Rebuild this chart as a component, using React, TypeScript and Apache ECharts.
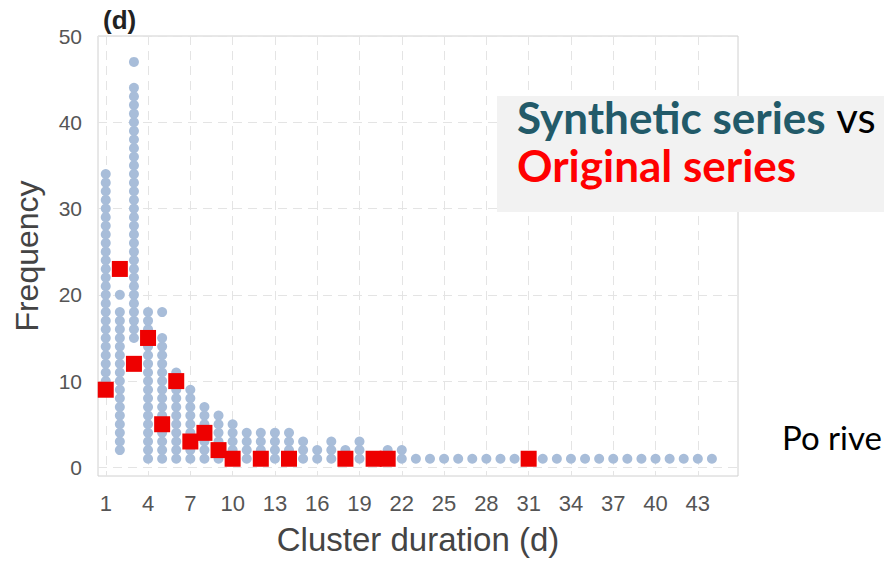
import React, { useEffect, useRef } from "react";
import * as echarts from "echarts";

// Cluster durations (days) shown on the x axis
const durations = [
  1, 2, 3, 4, 5, 6, 7, 8, 9, 10, 11, 12, 13, 14, 15, 16, 17, 18, 19, 20, 21, 22,
  23, 24, 25, 26, 27, 28, 29, 30, 31, 32, 33, 34, 35, 36, 37, 38, 39, 40, 41, 42, 43, 44,
];
// Synthetic series: lowest and highest frequency stacked at each duration
const synthLow = [
  9, 2, 15, 1, 1, 1, 1, 1, 1, 1, 1, 1, 1, 1, 1, 1, 1, 1, 1, 1, 1, 1,
  1, 1, 1, 1, 1, 1, 1, 1, 1, 1, 1, 1, 1, 1, 1, 1, 1, 1, 1, 1, 1, 1,
];
const synthHigh = [
  34, 18, 44, 18, 15, 11, 9, 7, 6, 5, 4, 4, 4, 4, 3, 2, 3, 2, 3, 1, 2, 2,
  1, 1, 1, 1, 1, 1, 1, 1, 1, 1, 1, 1, 1, 1, 1, 1, 1, 1, 1, 1, 1, 1,
];
// Isolated synthetic values above the stacks
const outlierX = [2, 3, 5];
const outlierY = [20, 47, 18];
// Original series
const originalX = [1, 2, 3, 4, 5, 6, 7, 8, 9, 10, 12, 14, 18, 20, 21, 31];
const originalY = [9, 23, 12, 15, 5, 10, 3, 4, 2, 1, 1, 1, 1, 1, 1, 1];
// Tick labels
const xTicks = [1, 4, 7, 10, 13, 16, 19, 22, 25, 28, 31, 34, 37, 40, 43];
const yTicks = [0, 10, 20, 30, 40, 50];

export default function App() {
  const ref = useRef<HTMLDivElement>(null);
  useEffect(() => {
    if (!ref.current) return;
    const chart = echarts.init(ref.current, null, { renderer: "svg" });

    const synthData: number[][] = [];
    durations.forEach((d, i) => {
      for (let v = synthLow[i]; v <= synthHigh[i]; v++) synthData.push([d, v]);
    });
    outlierX.forEach((x, i) => synthData.push([x, outlierY[i]]));
    const origData = originalX.map((x, i) => [x, originalY[i]]);

    const axisFont = "Liberation Sans, Arial, sans-serif";
    const gridLine = { show: true, lineStyle: { color: "#e4e4e4", type: [9, 6] as any, width: 1 } };

    chart.setOption({
      animation: false,
      backgroundColor: "#ffffff",
      grid: {
        left: 98, top: 36, right: 146, bottom: 81,
        show: true, borderColor: "#d0d0d0", borderWidth: 1, backgroundColor: "transparent",
      },
      xAxis: {
        type: "value", min: 0.45, max: 45.85,
        name: "Cluster duration (d)", nameLocation: "middle", nameGap: 47,
        nameTextStyle: { fontFamily: axisFont, fontSize: 33, color: "#444" },
        axisLine: { show: false }, axisTick: { show: false, customValues: xTicks },
        axisLabel: { customValues: xTicks, fontFamily: axisFont, fontSize: 22, color: "#555", margin: 16 },
        splitLine: gridLine,
      },
      yAxis: {
        type: "value", min: -1, max: 50,
        name: "Frequency", nameLocation: "middle", nameGap: 55, nameRotate: 90,
        nameTextStyle: { fontFamily: axisFont, fontSize: 32, color: "#444" },
        axisLine: { show: false }, axisTick: { show: false, customValues: yTicks },
        axisLabel: { customValues: yTicks, fontFamily: axisFont, fontSize: 21, color: "#555", margin: 16 },
        splitLine: gridLine,
      },
      series: [
        {
          type: "scatter", name: "Synthetic series", data: synthData,
          symbol: "circle", symbolSize: 10,
          itemStyle: { color: "#a8bdd9", opacity: 1 }, z: 2,
        },
        {
          type: "scatter", name: "Original series", data: origData,
          symbol: "rect", symbolSize: 16,
          itemStyle: { color: "#ee0000", opacity: 1 }, z: 3,
        },
      ],
      graphic: [
        {
          type: "text", left: 103, top: 7,
          style: { text: "(d)", font: "bold 26px Liberation Sans, Arial, sans-serif", fill: "#222" },
        },
        {
          type: "rect", shape: { x: 497, y: 96, width: 400, height: 116 },
          style: { fill: "#f2f2f2" }, z: 10,
        },
        {
          type: "text", x: 517, y: 117, z: 11,
          style: {
            text: "{a|Synthetic series }{b|vs}",
            textVerticalAlign: "middle",
            rich: {
              a: { font: "bold 44px Lato, sans-serif", fill: "#225a69", color: "#225a69" },
              b: { font: "42px Lato, sans-serif", fill: "#000", color: "#000" },
            },
          },
        },
        {
          type: "text", x: 517, y: 165, z: 11,
          style: {
            text: "Original series", textVerticalAlign: "middle",
            font: "bold 44px Lato, sans-serif", fill: "#ff0000",
          },
        },
        {
          type: "text", x: 782, y: 437, z: 11,
          style: { text: "Po rive", textVerticalAlign: "middle", font: "33px Lato, sans-serif", fill: "#000" },
        },
      ],
    });
    return () => chart.dispose();
  }, []);
  return (
    <div
      ref={ref}
      style={{ position: "absolute", left: 0, top: 0, width: 884, height: 561, overflow: "hidden", background: "#fff" }}
    />
  );
}
